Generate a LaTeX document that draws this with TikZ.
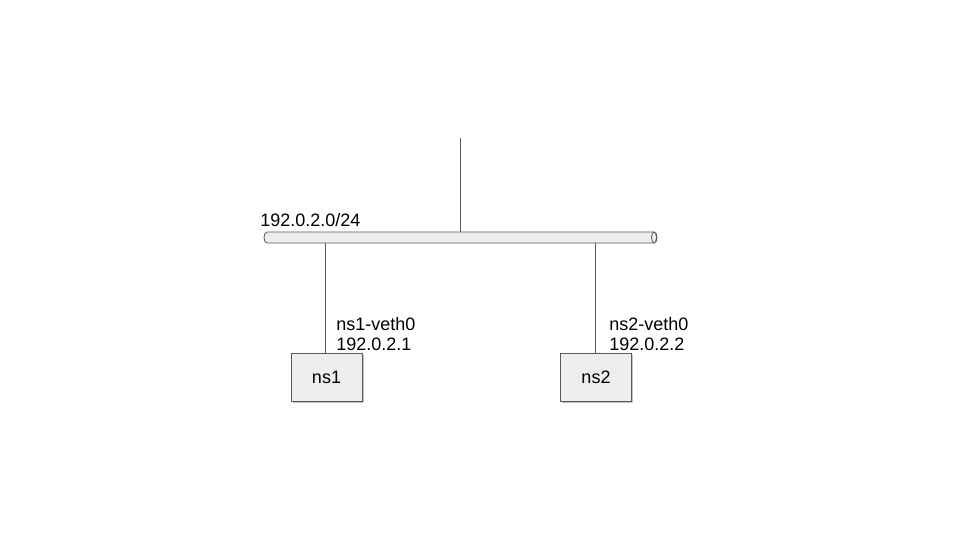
\documentclass[tikz,border=0pt]{standalone}
\usepackage{fontspec}
\setmainfont{Liberation Sans}
\usetikzlibrary{shadows}
\definecolor{linec}{HTML}{595959}
\definecolor{boxfill}{HTML}{EEEEEE}
\begin{document}
\begin{tikzpicture}[x=0.75pt,y=-0.75pt,
  nsbox/.style={draw=linec, fill=boxfill, line width=0.6pt, minimum width=71*0.75pt, minimum height=48*0.75pt, inner sep=0pt, font=\fontsize{13.5}{15}\selectfont,
    drop shadow={shadow xshift=1.2pt, shadow yshift=-1.8pt, fill=black, opacity=0.25}},
  link/.style={draw=linec, line width=0.6pt},
  lbl/.style={font=\fontsize{13.5}{15}\selectfont, inner sep=0pt, align=left}]
\useasboundingbox (0,0) rectangle (960,540);
% bus pipe
\node[inner sep=0pt, minimum width=393*0.75pt, minimum height=11*0.75pt] (bus) at (460.5,237.5) {};
\path[draw=linec, fill=boxfill, line width=0.6pt]
  (267,232) -- (654,232) arc[start angle=-90, end angle=90, x radius=3, y radius=5.5]
  -- (267,243) arc[start angle=90, end angle=270, x radius=3, y radius=5.5] -- cycle;
\draw[linec, line width=0.6pt] (654,237.5) ellipse[x radius=2.5, y radius=5.5];
\coordinate (top) at (460,138);
\coordinate (busTop) at (460,232);
\coordinate (bus1) at (325,243);
\coordinate (bus2) at (595,243);
\node[nsbox] (ns1) at (326.5,377) {ns1};
\node[nsbox] (ns2) at (596,377) {ns2};
\draw[link] (top) -- (busTop);
\draw[link] (bus1) -- (bus1 |- ns1.north);
\draw[link] (bus2) -- (bus2 |- ns2.north);
\node[lbl, anchor=base west] (netlbl) at (260,226) {192.0.2.0/24};
\node[lbl, anchor=north west] (l1) at (336,317) {ns1-veth0\\192.0.2.1};
\node[lbl, anchor=north west] (l2) at (609,317) {ns2-veth0\\192.0.2.2};
\end{tikzpicture}
\end{document}
